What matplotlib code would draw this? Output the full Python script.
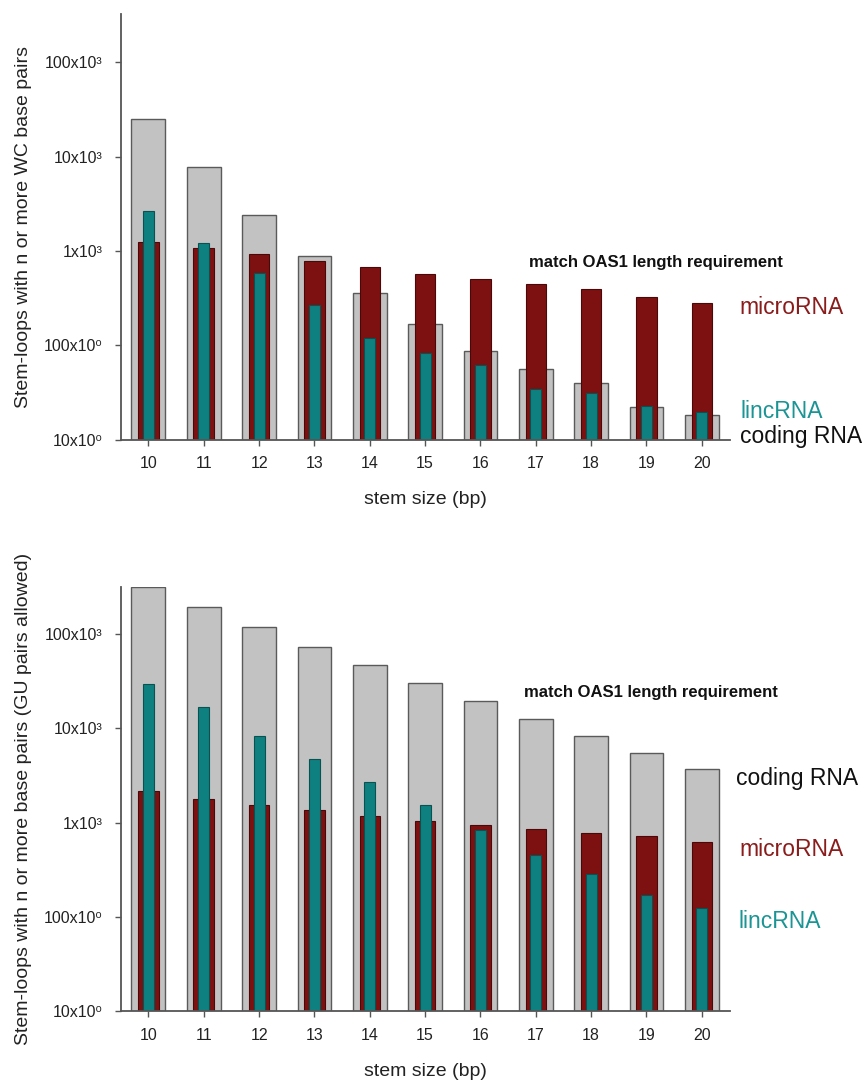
import matplotlib
matplotlib.use("Agg")
import matplotlib.pyplot as plt
import numpy as np

plt.rcParams['font.family'] = ['Liberation Sans', 'DejaVu Sans']

stem_sizes = [10, 11, 12, 13, 14, 15, 16, 17, 18, 19, 20]

# Top panel: WC base pairs only
wc_coding = [25000, 7660, 2430, 880, 356, 167, 86, 55.7, 40.2, 22, 18.3]
wc_micro = [1250, 1086, 916, 778, 667, 572, 501, 448, 399, 328, 282]
wc_linc = [2640, 1207, 576, 270, 120, 83, 62, 34.7, 31, 22.9, 19.8]

# Bottom panel: GU pairs allowed
gu_coding = [316000, 197000, 120000, 73800, 47500, 30300, 19400, 12700, 8380, 5530, 3680]
gu_micro = [2180, 1778, 1527, 1357, 1175, 1052, 942, 859, 782, 713, 628]
gu_linc = [29600, 16700, 8300, 4750, 2720, 1527, 844, 451, 288, 169, 124]

ytick_vals = [10, 100, 1000, 10000, 100000]
ytick_labels = ['10x10\u2070', '100x10\u2070', '1x10\u00b3', '10x10\u00b3', '100x10\u00b3']

top_ylabel = 'Stem-loops with n or more WC base pairs'
bottom_ylabel = 'Stem-loops with n or more base pairs (GU pairs allowed)'
xlabel = 'stem size (bp)'
note = 'match OAS1 length requirement'

GRAY = '#c2c2c2'
GRAY_E = '#5a5a5a'
RED = '#7d1111'
RED_E = '#4a0808'
TEAL = '#0f8080'
TEAL_E = '#0a5252'
RED_T = '#8a1c1c'
TEAL_T = '#1a9494'

W, H = 868, 1083
fig = plt.figure(figsize=(W / 100, H / 100), dpi=100)


def px_axes(left, right, top, bottom):
    return fig.add_axes([left / W, 1 - bottom / H, (right - left) / W, (bottom - top) / H])


def draw(ax, coding, micro, linc, ylabel, ytop):
    ax.bar(stem_sizes, coding, width=0.61, color=GRAY, edgecolor=GRAY_E, linewidth=1.0, zorder=2)
    ax.bar(stem_sizes, micro, width=0.37, color=RED, edgecolor=RED_E, linewidth=0.8, zorder=3)
    ax.bar(stem_sizes, linc, width=0.2, color=TEAL, edgecolor=TEAL_E, linewidth=0.8, zorder=4)
    ax.set_yscale('log')
    ax.set_ylim(10, ytop)
    ax.set_xlim(9.5, 20.5)
    ax.set_yticks(ytick_vals)
    ax.set_yticklabels(ytick_labels)
    ax.minorticks_off()
    ax.set_xticks(stem_sizes)
    ax.set_xticklabels([str(s) for s in stem_sizes])
    for s in ['top', 'right']:
        ax.spines[s].set_visible(False)
    for s in ['left', 'bottom']:
        ax.spines[s].set_color('#555555')
        ax.spines[s].set_linewidth(1.3)
        ax.spines[s].set_zorder(5)
    ax.tick_params(axis='both', direction='out', length=4, width=1.0, color='#555555',
                   labelsize=11.5, labelcolor='#222222')
    ax.tick_params(axis='y', pad=9)
    ax.tick_params(axis='x', pad=8)
    ax.set_ylabel(ylabel, fontsize=14, color='#222222')
    ax.yaxis.set_label_coords(-0.146, 0.5)
    ax.set_xlabel(xlabel, fontsize=14, color='#222222')
    ax.xaxis.set_label_coords(0.5, -0.122)


ax1 = px_axes(120.7, 729.5, 14, 439.5)
draw(ax1, wc_coding, wc_micro, wc_linc, top_ylabel, 3.25e5)
ax2 = px_axes(120.7, 729.5, 586.7, 1011)
draw(ax2, gu_coding, gu_micro, gu_linc, bottom_ylabel, 3.2e5)


def ftext(x, y, s, **kw):
    fig.text(x / W, 1 - y / H, s, va='center', ha='left', **kw)


ftext(529, 263, note, fontsize=12, fontweight='bold', color='#111111')
ftext(739, 308, 'microRNA', fontsize=16.5, color=RED_T)
ftext(740, 412, 'lincRNA', fontsize=16.5, color=TEAL_T)
ftext(740, 437, 'coding RNA', fontsize=16.5, color='#111111')

ftext(524, 693, note, fontsize=12, fontweight='bold', color='#111111')
ftext(736, 778, 'coding RNA', fontsize=16.5, color='#111111')
ftext(739, 849, 'microRNA', fontsize=16.5, color=RED_T)
ftext(739, 922, 'lincRNA', fontsize=16.5, color=TEAL_T)

fig.savefig('out.png', dpi=100, facecolor='white')
